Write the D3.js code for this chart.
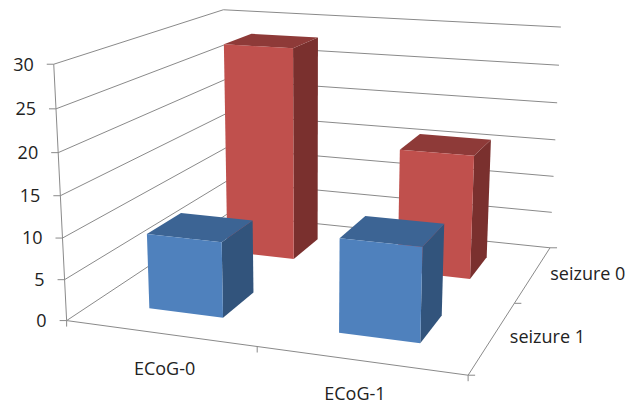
<!DOCTYPE html>
<html lang="en">
	<head>
		<meta charset="utf-8">
		<title>ECoG seizure 3D bars</title>
		<script src="https://cdn.jsdelivr.net/npm/d3@7"></script>
		<style type="text/css">
			html, body { margin: 0; padding: 0; background: #fff; }
			svg { display: block; }
			text { font-family: "Open Sans", sans-serif; fill: #222; font-size: 18px; }
		</style>
	</head>
	<body>
		<script type="text/javascript">

			// data
			let categories = ["ECoG-0", "ECoG-1"];
			let seriesNames = ["seizure 1", "seizure 0"];	// front to back
			let seizure1Values = [9.2, 11.2];
			let seizure0Values = [28, 16];
			let valueTicks = [0, 5, 10, 15, 20, 25, 30];

			let w = 627;
			let h = 405;
			let gridColor = "#8a8a8a";
			let blue = { front: "#4f81bd", top: "#3c6494", side: "#32547c" };
			let red = { front: "#c0504d", top: "#8e3a38", side: "#7a302e" };
			let barFill = 0.4;	// share of a category cell the bar takes up
			let categoryLabelNudge = [[5, 35.5], [-5, 33]];

			// cube corners as seen in the picture: [u, v, w] -> [px, py]
			let calibration = [
				[0, 0, 0, 66.5, 321],
				[1, 0, 0, 468, 375],
				[1, 1, 0, 550, 248],
				[0, 1, 0, 227, 214],
				[0, 0, 1, 54, 64],
				[1, 1, 1, 561, 27],
				[0, 1, 1, 223, 10]
			];

			// least squares fit of the 3x4 camera matrix
			function fitCamera(pts) {
				let n = 11;
				let ata = d3.range(n).map(() => new Array(n + 1).fill(0));
				let addRow = (row, rhs) => {
					for (let i = 0; i < n; i++) {
						for (let j = 0; j < n; j++) ata[i][j] += row[i] * row[j];
						ata[i][n] += row[i] * rhs;
					}
				};
				pts.forEach(([u, v, z, px, py]) => {
					addRow([u, v, z, 1, 0, 0, 0, 0, -px * u, -px * v, -px * z], px);
					addRow([0, 0, 0, 0, u, v, z, 1, -py * u, -py * v, -py * z], py);
				});
				for (let c = 0; c < n; c++) {
					let pivot = c;
					for (let r = c + 1; r < n; r++) if (Math.abs(ata[r][c]) > Math.abs(ata[pivot][c])) pivot = r;
					[ata[c], ata[pivot]] = [ata[pivot], ata[c]];
					for (let r = 0; r < n; r++) {
						if (r === c) continue;
						let f = ata[r][c] / ata[c][c];
						for (let k = c; k <= n; k++) ata[r][k] -= f * ata[c][k];
					}
				}
				return ata.map((row, i) => row[n] / row[i]);
			}

			let cam = fitCamera(calibration);
			let project = (u, v, z) => {
				let d = cam[8] * u + cam[9] * v + cam[10] * z + 1;
				return [
					(cam[0] * u + cam[1] * v + cam[2] * z + cam[3]) / d,
					(cam[4] * u + cam[5] * v + cam[6] * z + cam[7]) / d
				];
			};

			let xScale = d3.scaleLinear().domain([0, categories.length]).range([0, 1]);
			let depthScale = d3.scaleLinear().domain([0, seriesNames.length]).range([0, 1]);
			let zScale = d3.scaleLinear().domain([0, d3.max(valueTicks)]).range([0, 1]);

			let svg = d3.select("body").append("svg")
				.attr("width", w)
				.attr("height", h);

			let lineGen = d3.line();
			let drawLine = (pts) => {
				svg.append("path")
					.attr("d", lineGen(pts))
					.attr("fill", "none")
					.attr("stroke", gridColor)
					.attr("stroke-width", 1);
			};

			// gridlines on both walls
			valueTicks.forEach((t) => {
				let z = zScale(t);
				drawLine([project(0, 0, z), project(0, 1, z), project(1, 1, z)]);
				let p = project(0, 0, z);
				drawLine([p, [p[0] - 7, p[1]]]);
				svg.append("text")
					.attr("x", p[0] - 20)
					.attr("y", p[1])
					.attr("dy", "0.35em")
					.attr("text-anchor", "end")
					.text(t);
			});

			// value axis, floor edges and ticks
			drawLine([project(0, 0, 1), project(0, 0, 0)]);
			drawLine([project(0, 0, 0), project(1, 0, 0), project(1, 1, 0)]);
			d3.range(categories.length + 1).forEach((i) => {
				let p = project(xScale(i), 0, 0);
				drawLine([p, [p[0], p[1] + 6]]);
			});
			d3.range(seriesNames.length + 1).forEach((i) => {
				let p = project(1, depthScale(i), 0);
				drawLine([p, [p[0] + 7, p[1]]]);
			});

			categories.forEach((c, i) => {
				let p = project(xScale(i + 0.5), 0, 0);
				svg.append("text")
					.attr("x", p[0] + categoryLabelNudge[i][0])
					.attr("y", p[1] + categoryLabelNudge[i][1])
					.attr("dy", "0.35em")
					.attr("text-anchor", "middle")
					.text(c);
			});
			seriesNames.forEach((s, i) => {
				let p = project(1, depthScale(i + 0.5), 0);
				svg.append("text")
					.attr("x", p[0] + 17)
					.attr("y", p[1])
					.attr("dy", "0.35em")
					.text(s);
			});

			function drawBar(catIndex, seriesIndex, value, colors) {
				let pad = (1 - barFill) / 2;
				let u0 = xScale(catIndex + pad), u1 = xScale(catIndex + 1 - pad);
				let v0 = depthScale(seriesIndex + pad), v1 = depthScale(seriesIndex + 1 - pad);
				let z = zScale(value);
				let face = (pts, fill) => {
					svg.append("path")
						.attr("d", lineGen(pts.map((q) => project(q[0], q[1], q[2]))) + "Z")
						.attr("fill", fill);
				};
				face([[u1, v0, 0], [u1, v1, 0], [u1, v1, z], [u1, v0, z]], colors.side);
				face([[u0, v0, z], [u1, v0, z], [u1, v1, z], [u0, v1, z]], colors.top);
				face([[u0, v0, 0], [u1, v0, 0], [u1, v0, z], [u0, v0, z]], colors.front);
			}

			// back row first so the front row covers it
			seizure0Values.forEach((v, i) => drawBar(i, 1, v, red));
			seizure1Values.forEach((v, i) => drawBar(i, 0, v, blue));

		</script>
	</body>
</html>
